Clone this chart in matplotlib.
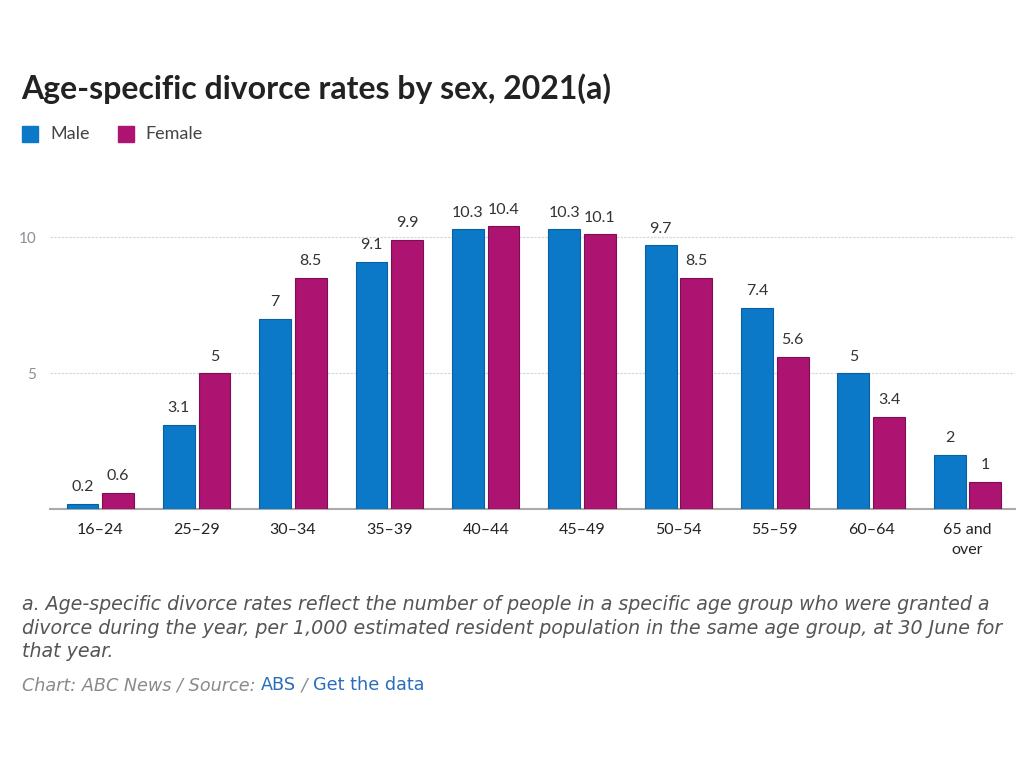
import numpy as np
import matplotlib.pyplot as plt

age_groups = ['16–24', '25–29', '30–34', '35–39', '40–44', '45–49',
              '50–54', '55–59', '60–64', '65 and\nover']
male = [0.2, 3.1, 7, 9.1, 10.3, 10.3, 9.7, 7.4, 5, 2]
female = [0.6, 5, 8.5, 9.9, 10.4, 10.1, 8.5, 5.6, 3.4, 1]
yticks = [5, 10]

male_color = '#0b78c8'
female_color = '#ad1370'

plt.rcParams['font.family'] = ['Lato', 'DejaVu Sans']

fig = plt.figure(figsize=(10.24, 7.68), dpi=100)
ax = fig.add_axes([0.049, 0.337, 0.942, 0.425])

x = np.arange(len(age_groups))
w = 0.33
gap = 0.02
b1 = ax.bar(x - w / 2 - gap, male, w, color=male_color, edgecolor='#0a5f9e', linewidth=0.8, zorder=3)
b2 = ax.bar(x + w / 2 + gap, female, w, color=female_color, edgecolor='#7d0e50', linewidth=0.8, zorder=3)

for bars, vals in ((b1, male), (b2, female)):
    for bar, v in zip(bars, vals):
        ax.text(bar.get_x() + bar.get_width() / 2, v + 0.35, f'{v:g}',
                ha='center', va='bottom', fontsize=11.5, color='#333333')

ax.set_xlim(-0.52, 9.49)
ax.set_ylim(0, 12)
ax.set_yticks(yticks)
ax.set_yticklabels([str(t) for t in yticks], color='#8a8f99', fontsize=11)
ax.set_xticks(x)
ax.set_xticklabels(age_groups, fontsize=11.5, color='#222222', linespacing=1.5)
ax.tick_params(axis='both', length=0)
ax.tick_params(axis='y', pad=10)
ax.tick_params(axis='x', pad=10)
ax.grid(axis='y', color='#d5d8dd', linestyle=(0, (2, 1)), linewidth=0.9, zorder=0)
for s in ['top', 'right', 'left']:
    ax.spines[s].set_visible(False)
ax.spines['bottom'].set_color('#aaaaaa')
ax.spines['bottom'].set_linewidth(1.5)

# title and legend
fig.text(0.021, 0.885, 'Age-specific divorce rates by sex, 2021(a)', fontsize=23,
         fontweight='bold', color='#222222', va='center')
fig.patches.append(plt.Rectangle((22 / 1024, 1 - 142 / 768), 16 / 1024, 16 / 768,
                                 transform=fig.transFigure, color=male_color, figure=fig))
fig.text(50 / 1024, 1 - 134 / 768, 'Male', fontsize=13, color='#444444', va='center')
fig.patches.append(plt.Rectangle((118 / 1024, 1 - 142 / 768), 16 / 1024, 16 / 768,
                                 transform=fig.transFigure, color=female_color, figure=fig))
fig.text(145 / 1024, 1 - 134 / 768, 'Female', fontsize=13, color='#444444', va='center')

# footnote
foot = ['DejaVu Sans']
note = ('a. Age-specific divorce rates reflect the number of people in a specific age group who were granted a\n'
        'divorce during the year, per 1,000 estimated resident population in the same age group, at 30 June for\n'
        'that year.')
fig.text(0.021, 1 - 628 / 768, note, fontsize=13.7, style='italic', color='#555555',
         va='center', linespacing=1.27, family=foot)

src_y = 1 - 685 / 768
t = fig.text(0.021, src_y, 'Chart: ABC News / Source: ', fontsize=12.7, style='italic',
             color='#8a8a8a', va='center', family=foot)
fig.canvas.draw()
r = fig.canvas.get_renderer()
bb = t.get_window_extent(r)
t2 = fig.text(bb.x1 / fig.bbox.width, src_y, 'ABS', fontsize=12.7, color='#2a6ebb',
              va='center', family=foot)
bb2 = t2.get_window_extent(r)
t3 = fig.text(bb2.x1 / fig.bbox.width, src_y, ' / ', fontsize=12.7, style='italic',
              color='#8a8a8a', va='center', family=foot)
bb3 = t3.get_window_extent(r)
fig.text(bb3.x1 / fig.bbox.width, src_y, 'Get the data', fontsize=12.7, color='#2a6ebb',
         va='center', family=foot)

fig.savefig('out.png', dpi=100)
